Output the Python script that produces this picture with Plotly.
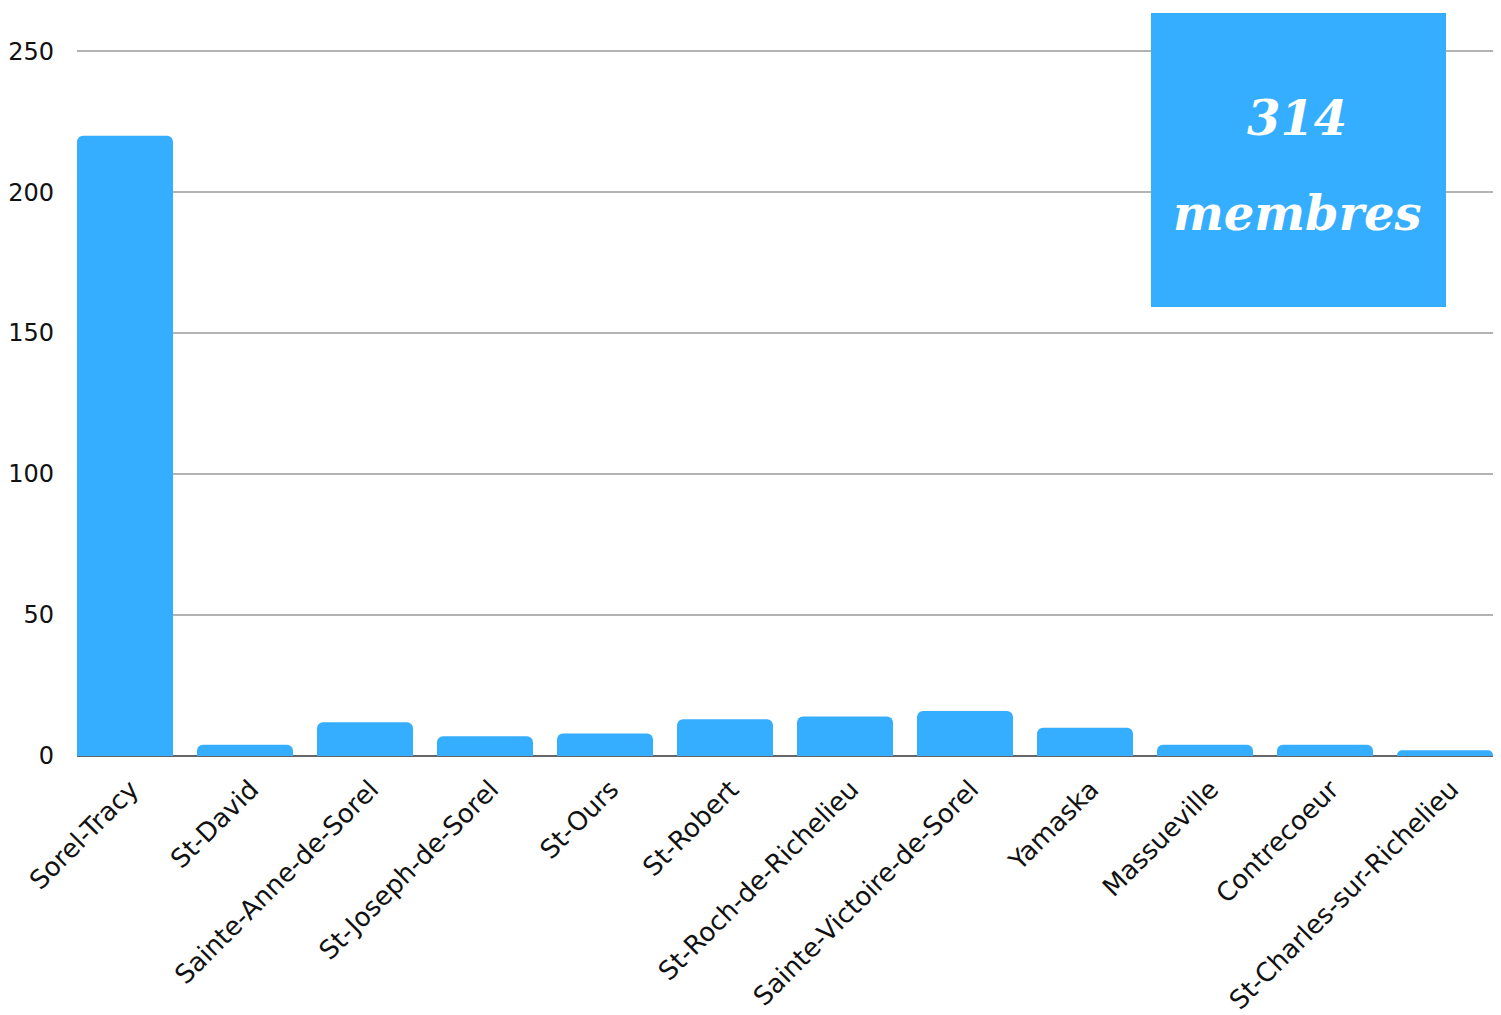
import plotly.graph_objects as go

categories = ["Sorel-Tracy", "St-David", "Sainte-Anne-de-Sorel", "St-Joseph-de-Sorel",
              "St-Ours", "St-Robert", "St-Roch-de-Richelieu", "Sainte-Victoire-de-Sorel",
              "Yamaska", "Massueville", "Contrecoeur", "St-Charles-sur-Richelieu"]
values = [220, 4, 12, 7, 8, 13, 14, 16, 10, 4, 4, 2]
y_ticks = [0, 50, 100, 150, 200, 250]
total_label = "314"
unit_label = "membres"

BLUE = "#36aeff"
OFF = 8  # page body margin
W, H = 1501 - OFF, 1015 - OFF
L, R, T, B = 77 - OFF, 8, 50 - OFF, 259

fig = go.Figure(go.Bar(x=categories, y=values, marker=dict(color=BLUE, line=dict(width=0)),
                       width=0.8))

def px_x(px):
    return (px - OFF - L) / (W - L - R)

def px_y(py):
    return (H - B - (py - OFF)) / (H - B - T)

fig.add_shape(type="rect", xref="paper", yref="paper",
              x0=px_x(1151), x1=px_x(1446), y0=px_y(307), y1=px_y(13),
              fillcolor=BLUE, line=dict(width=0), layer="above")
fig.add_annotation(xref="paper", yref="paper", x=px_x(1297), y=px_y(118),
                   text="<b><i>" + total_label + "</i></b>", showarrow=False,
                   font=dict(family="DejaVu Serif", size=48, color="white"),
                   xanchor="center", yanchor="middle")
fig.add_annotation(xref="paper", yref="paper", x=px_x(1297), y=px_y(213),
                   text="<b><i>" + unit_label + "</i></b>", showarrow=False,
                   font=dict(family="DejaVu Serif", size=48, color="white"),
                   xanchor="center", yanchor="middle")

fig.update_layout(
    width=W, height=H,
    margin=dict(l=L, r=R, t=T, b=B, autoexpand=False),
    plot_bgcolor="white", paper_bgcolor="white",
    barcornerradius=6,
    showlegend=False,
    font=dict(family="DejaVu Sans", color="#222"),
)
fig.update_xaxes(type="category", range=[-0.4, len(categories) - 0.6],
                 tickangle=-45, tickfont=dict(size=26, color="#111"),
                 ticklabelstandoff=12, ticklabelshift=6,
                 showgrid=False, showline=False, ticks="", automargin=False)
fig.update_yaxes(range=[0, 250.4], tickvals=y_ticks, ticktext=[str(v) for v in y_ticks],
                 tickfont=dict(size=24, color="#111"), showgrid=True, gridcolor="#b3b3b3",
                 gridwidth=1.5, zeroline=True, zerolinecolor="#666666", zerolinewidth=2,
                 showline=False, ticks="", ticklabelstandoff=22, automargin=False)

fig.write_html("out.html")
